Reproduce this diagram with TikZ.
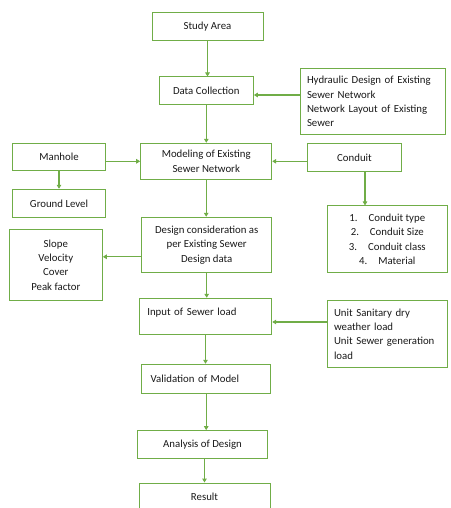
\documentclass[tikz,border=0pt]{standalone}
\usepackage{fontspec}
\setmainfont{Carlito}
\usetikzlibrary{arrows.meta}
\definecolor{boxgreen}{RGB}{112,173,71}
\tikzset{
	box/.style={draw=boxgreen, line width=1pt, inner sep=0pt, text=black!90,
		font=\fontsize{10.8}{14.4}\selectfont},
	flow/.style={draw=boxgreen, line width=1.1pt, -{Triangle[length=4pt,width=4.5pt]}},
}

\begin{document}
\begin{tikzpicture}[x=1pt, y=-1pt]
		%%%%% START %%%%%
		\useasboundingbox (0, 0) rectangle (450, 508);
		
		\node[box, minimum width=111pt, minimum height=28pt] (study) at (207.5, 27) {Study Area};
		\node[box, minimum width=94pt, minimum height=28pt] (data) at (206.3, 91) {Data Collection};
		\node[box, minimum width=145pt, minimum height=65pt, text width=131pt, inner xsep=7pt, align=left] (hyd) at (372.5, 101.5)
			{Hydraulic Design of Existing\\Sewer Network\\Network Layout of Existing\\Sewer};
		
		\node[box, minimum width=92.6pt, minimum height=27.4pt] (manhole) at (59, 157) {Manhole};
		\node[box, minimum width=131pt, minimum height=36pt, align=center] (model) at (206.2, 161.3)
			{Modeling of Existing\\Sewer Network};
		\node[box, minimum width=94.4pt, minimum height=28.4pt] (conduit) at (354.5, 157.5) {Conduit};
		\node[box, minimum width=92.6pt, minimum height=28pt] (ground) at (59, 203.3) {Ground Level};
		\node[box, minimum width=120pt, minimum height=66.7pt, align=center] (list) at (387.3, 239.3)
			{1.\hspace{11pt}Conduit type\\2.\hspace{11pt}Conduit Size\\3.\hspace{11pt}Conduit class\\4.\hspace{11pt}Material};
		
		\node[box, minimum width=130pt, minimum height=55pt, align=center] (design) at (206.7, 244.8)
			{Design consideration as\\per Existing Sewer\\Design data};
		\node[box, minimum width=93pt, minimum height=71.4pt, align=center] (slope) at (55.8, 265)
			{Slope\\Velocity\\Cover\\Peak factor};
		
		\node[box, minimum width=132.4pt, minimum height=36pt, text width=116.4pt, inner xsep=8pt, align=left, text depth=10pt] (input) at (205.5, 316.3)
			{Input of Sewer load};
		\node[box, minimum width=120pt, minimum height=66.6pt, text width=106pt, inner xsep=7pt, align=left] (unit) at (387, 334)
			{Unit Sanitary dry\\weather load\\Unit Sewer generation\\load};
		\node[box, minimum width=129pt, minimum height=29pt, text width=111pt, inner xsep=9pt, align=left] (valid) at (206.2, 378.8)
			{Validation of Model};
		\node[box, minimum width=130.4pt, minimum height=28.3pt] (analysis) at (202.5, 444.8) {Analysis of Design};
		\node[box, minimum width=131pt, minimum height=28pt] (result) at (204.5, 497) {Result};
		
		% main line
		\draw[flow] (study.south) -- (study.south |- data.north);
		\draw[flow] (data.south) -- (data.south |- model.north);
		\draw[flow] (model.south) -- (model.south |- design.north);
		\draw[flow] (design.south) -- (design.south |- input.north);
		\draw[flow] (input.south) -- (input.south |- valid.north);
		\draw[flow] (valid.south) -- (valid.south |- analysis.north);
		\draw[flow] (result.north |- analysis.south) -- (result.north);
		
		% side boxes
		\draw[flow] ([yshift=-4pt]hyd.west |- data.east) -- ([yshift=-4pt]data.east);
		\draw[flow] (manhole.east |- model.west) -- (model.west);
		\draw[flow] (conduit.west |- model.east) -- (model.east);
		\draw[flow] (manhole.south) -- (manhole.south |- ground.north);
		\draw[flow] ([xshift=10.5pt]conduit.south) -- ([xshift=10.5pt]conduit.south |- list.north);
		\draw[flow] ([yshift=-12pt]design.west) -- ([yshift=-12pt]design.west -| slope.east);
		\draw[flow] ([yshift=12pt]unit.west) -- ([yshift=12pt]unit.west -| input.east);
		
		%%%%% END %%%%%
	\end{tikzpicture}
\end{document}
